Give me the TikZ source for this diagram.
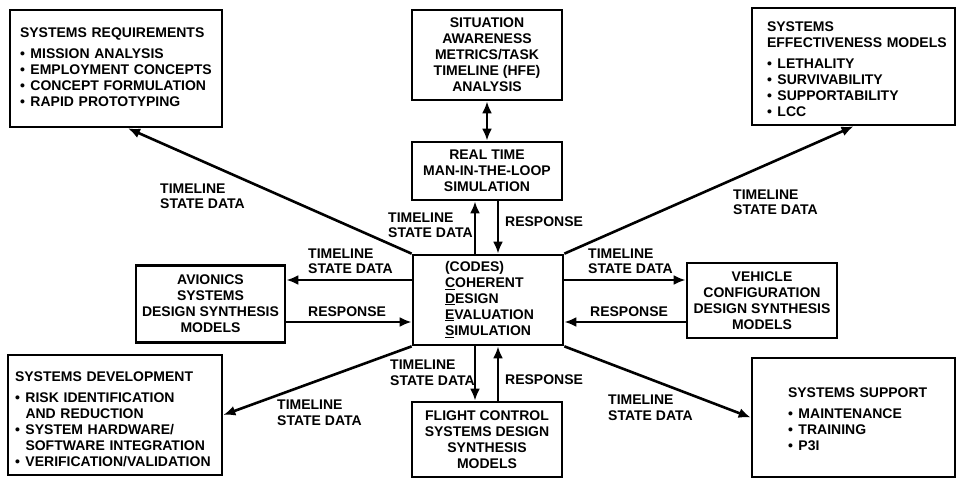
\documentclass[tikz,border=0pt]{standalone}
\usepackage{fontspec}
\setmainfont{Liberation Sans}
\usetikzlibrary{positioning,arrows.meta}

\newcommand{\bul}{\makebox[10.5pt][l]{\textbullet}}
\newcommand{\ind}{\hspace*{10.5pt}}
\newcommand{\boxlines}[1]{\begin{tabular}{@{}l@{}}#1\end{tabular}}
\newcommand{\padtop}[1]{\rule{0pt}{#1}}

\begin{document}
\begin{tikzpicture}[x=1pt, y=-1pt,
    font=\fontsize{14}{16}\selectfont\bfseries,
    box/.style={draw, line width=2.7pt, inner sep=0pt, align=center},
    listbox/.style={box, align=left},
    lbl/.style={anchor=west, align=left, inner sep=0pt, font=\fontsize{14}{15.5}\selectfont\bfseries},
    arr/.style={line width=2.6pt, -{Latex[length=12pt,width=10pt]}},
    dbl/.style={line width=2.6pt, {Latex[length=12pt,width=10pt]}-{Latex[length=12pt,width=10pt]}}]
    \useasboundingbox (0,0) rectangle (957,480);

    % Centre block
    \node[listbox, minimum width=150pt, minimum height=90pt, text width=86pt, inner xsep=32pt] (codes) at (488,300)
        {\boxlines{(CODES)\\\underline{C}OHERENT\\\underline{D}ESIGN\\\underline{E}VALUATION\\\underline{S}IMULATION}};

    % Design synthesis models round the centre
    \node[box, minimum width=150pt, minimum height=58pt] (rt) at (487,171) {REAL TIME\\MAN-IN-THE-LOOP\\SIMULATION};
    \node[box, minimum width=150pt, minimum height=90pt] (sa) at (487,55) {SITUATION\\AWARENESS\\METRICS/TASK\\TIMELINE (HFE)\\ANALYSIS};
    \node[box, minimum width=149pt, minimum height=77pt] (avi) at (210.5,304) {AVIONICS\\SYSTEMS\\DESIGN SYNTHESIS\\MODELS};
    \node[box, minimum width=150pt, minimum height=75pt] (veh) at (762,300.5) {VEHICLE\\CONFIGURATION\\DESIGN SYNTHESIS\\MODELS};
    \node[box, minimum width=150pt, minimum height=75pt] (fcs) at (487,439.5) {FLIGHT CONTROL\\SYSTEMS DESIGN\\SYNTHESIS\\MODELS};

    % Corner boxes with lists
    \node[listbox, minimum width=212pt, minimum height=117pt, text width=192pt, inner xsep=10pt] (req) at (116,68.5)
        {\boxlines{SYSTEMS REQUIREMENTS\\[5pt]\bul MISSION ANALYSIS\\\bul EMPLOYMENT CONCEPTS\\\bul CONCEPT FORMULATION\\\bul RAPID PROTOTYPING}};
    \node[listbox, minimum width=203pt, minimum height=117pt, text width=173pt, inner xsep=15pt] (eff) at (853.5,66.5)
        {\boxlines{\padtop{19pt}SYSTEMS\\EFFECTIVENESS MODELS\\[5pt]\bul LETHALITY\\\bul SURVIVABILITY\\\bul SUPPORTABILITY\\\bul LCC}};
    \node[listbox, minimum width=214pt, minimum height=120pt, text width=200pt, inner xsep=7pt] (dev) at (115,415)
        {\boxlines{\padtop{23pt}SYSTEMS DEVELOPMENT\\[5pt]\bul RISK IDENTIFICATION\\\ind AND REDUCTION\\\bul SYSTEM HARDWARE/\\\ind SOFTWARE INTEGRATION\\\bul VERIFICATION/VALIDATION}};
    \node[listbox, minimum width=203pt, minimum height=119pt, text width=131pt, inner xsep=36pt] (sup) at (853.5,417.5)
        {\boxlines{\padtop{17pt}SYSTEMS SUPPORT\\[5pt]\bul MAINTENANCE\\\bul TRAINING\\\bul P3I}};

    % Diagonal feeds
    \draw[arr] (codes.north west) -- ([xshift=12pt]req.south);
    \draw[arr] (codes.north east) -- (eff.south);
    \draw[arr] (codes.south west) -- (dev.east);
    \draw[arr] (codes.south east) -- (sup.west);

    % Situation awareness link
    \draw[dbl] (sa.south) -- (rt.north);

    % Man-in-the-loop pair
    \path ([xshift=-13pt]codes.north) coordinate (rtA) ([xshift=11pt]rt.south) coordinate (rtB);
    \draw[arr] (rtA) -- (rtA |- rt.south);
    \draw[arr] (rtB) -- (rtB |- codes.north);

    % Avionics pair
    \path ([yshift=20pt]codes.west) coordinate (avA) ([yshift=-22pt]codes.west -| avi.east) coordinate (avB);
    \draw[arr] (avA) -- (avA -| avi.east);
    \draw[arr] (avB) -- (avB -| codes.west);

    % Vehicle pair
    \path ([yshift=20pt]codes.east) coordinate (veA) ([yshift=-22pt]codes.east -| veh.west) coordinate (veB);
    \draw[arr] (veA) -- (veA -| veh.west);
    \draw[arr] (veB) -- (veB -| codes.east);

    % Flight control pair
    \path ([xshift=-13pt]codes.south) coordinate (fcA) ([xshift=11pt]fcs.north) coordinate (fcB);
    \draw[arr] (fcA) -- (fcA |- fcs.north);
    \draw[arr] (fcB) -- (fcB |- codes.south);

    % Labels
    \node[lbl] (tReq) at (160,196) {TIMELINE\\STATE DATA};
    \node[lbl] (tEff) at (733,202) {TIMELINE\\STATE DATA};
    \node[lbl] (tRt) at (388,225) {TIMELINE\\STATE DATA};
    \node[lbl] (rRt) at (505,222) {RESPONSE};
    \node[lbl] (tAvi) at (308,261) {TIMELINE\\STATE DATA};
    \node[lbl] (rAvi) at (308,312) {RESPONSE};
    \node[lbl] (tVeh) at (588,261) {TIMELINE\\STATE DATA};
    \node[lbl] (rVeh) at (590,312) {RESPONSE};
    \node[lbl] (tFcs) at (390,372.5) {TIMELINE\\STATE DATA};
    \node[lbl] (rFcs) at (505,380) {RESPONSE};
    \node[lbl] (tDev) at (277,412.5) {TIMELINE\\STATE DATA};
    \node[lbl] (tSup) at (608,407.5) {TIMELINE\\STATE DATA};
\end{tikzpicture}
\end{document}
